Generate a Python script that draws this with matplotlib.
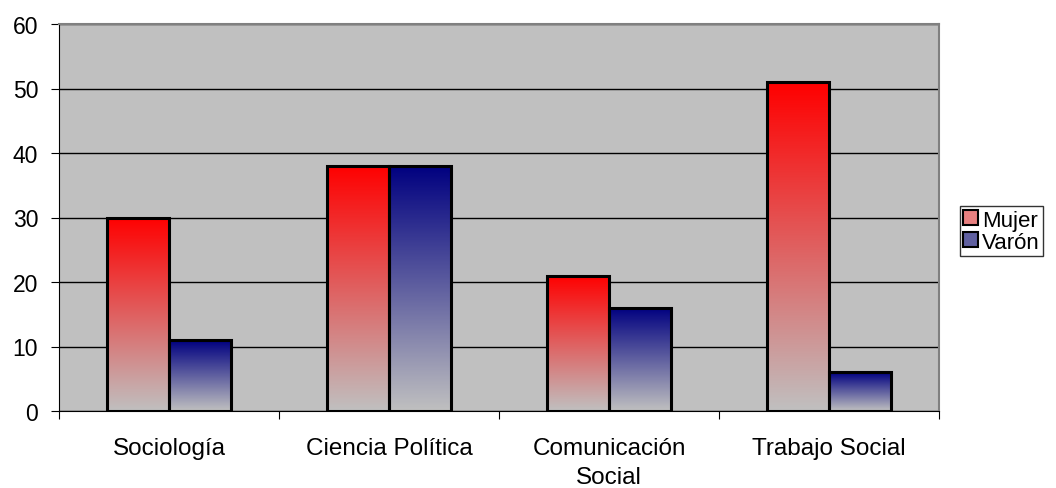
import matplotlib

matplotlib.use("Agg")

import matplotlib.pyplot as plt
import numpy as np
from matplotlib.colors import LinearSegmentedColormap
from matplotlib.patches import Patch

categories = ["Sociología", "Ciencia Política", "Comunicación\nSocial", "Trabajo Social"]
mujer = [30, 38, 21, 51]
varon = [11, 38, 16, 6]
series_names = ["Mujer", "Varón"]

plt.rcParams["font.family"] = ["Liberation Sans", "DejaVu Sans"]

GRAY = "#c0c0c0"
cmaps = [
    LinearSegmentedColormap.from_list("mujer", [GRAY, "#ff0000"]),
    LinearSegmentedColormap.from_list("varon", [GRAY, "#000080"]),
]

fig = plt.figure(figsize=(10.56, 4.89), dpi=100)
ax = fig.add_axes([59 / 1056, 1 - 412 / 489, 880 / 1056, 387 / 489])
ax.set_facecolor(GRAY)

x = np.arange(len(categories))
width = 0.282
grad = np.linspace(0, 1, 256).reshape(-1, 1)

for i, (vals, cmap) in enumerate(zip([mujer, varon], cmaps)):
    offs = (i - 0.5) * width
    bars = ax.bar(x + offs, vals, width, facecolor="none", edgecolor="black", linewidth=2.2, zorder=3)
    for b in bars:
        x0, y0 = b.get_x(), b.get_y()
        ax.imshow(grad, cmap=cmap, origin="lower", aspect="auto", zorder=2,
                  extent=[x0, x0 + b.get_width(), y0, y0 + b.get_height()])

ax.set_xlim(-0.5, len(categories) - 0.5)
ax.set_ylim(0, 60)
ax.set_yticks(range(0, 61, 10))
ax.yaxis.grid(True, color="black", linewidth=1.0, zorder=1)
ax.set_axisbelow(True)

ax.set_xticks(np.arange(-0.5, len(categories), 1.0))
ax.set_xticklabels([])
ax.set_xticks(x, minor=True)
ax.set_xticklabels(categories, minor=True, fontsize=17.5, linespacing=1.4)
ax.tick_params(axis="x", which="minor", length=0, pad=19)
ax.tick_params(axis="x", which="major", length=6, width=0.8, color="black")
ax.tick_params(axis="y", length=6, width=0.8, labelsize=16.5, pad=9)

for side in ("top", "right"):
    ax.spines[side].set_color("#808080")
    ax.spines[side].set_linewidth(1.5)
ax.spines["left"].set_color("black")
ax.spines["bottom"].set_color("black")

handles = [
    Patch(facecolor="#e88080", edgecolor="black", linewidth=1.5),
    Patch(facecolor="#6060a0", edgecolor="black", linewidth=1.5),
]
leg = fig.legend(handles, series_names, loc="lower left", bbox_to_anchor=(960 / 1056, 1 - 257 / 489),
                 frameon=True, fancybox=False, edgecolor="black", fontsize=16,
                 handlelength=0.65, handleheight=0.65, handletextpad=0.2, borderpad=0.15,
                 labelspacing=0.05, borderaxespad=0)
leg.get_frame().set_linewidth(1.0)

fig.savefig("out.png", dpi=100)
